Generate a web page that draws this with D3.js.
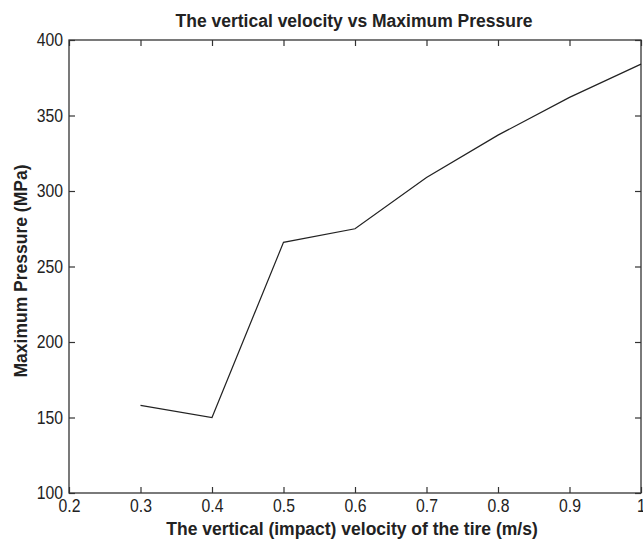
<!DOCTYPE html>
<html><head><meta charset="utf-8">
<script src="https://cdn.jsdelivr.net/npm/d3@7"></script>
<style>
body{margin:0;background:#fff;}
text{font-family:"Liberation Sans",Arial,sans-serif;fill:#222;}
</style></head><body>
<svg id="c" width="643" height="541"></svg>
<script>
const velocity = [0.3, 0.4, 0.5, 0.6, 0.7, 0.8, 0.9, 1.0];
const pressure = [158, 150, 266, 275, 309, 337, 362, 384];
const xTicks = [0.2, 0.3, 0.4, 0.5, 0.6, 0.7, 0.8, 0.9, 1];
const yTicks = [100, 150, 200, 250, 300, 350, 400];
const title = "The vertical velocity vs Maximum Pressure";
const xLabel = "The vertical (impact) velocity of the tire (m/s)";
const yLabel = "Maximum Pressure (MPa)";

const svg = d3.select("#c");
const L = 69, R = 641, T = 40, B = 493;
const x = d3.scaleLinear().domain([0.2, 1]).range([L, R]);
const y = d3.scaleLinear().domain([100, 400]).range([B, T]);
const axisColor = "#333";

function styleAxis(g){
  g.select(".domain").remove();
  g.selectAll("line").attr("stroke", axisColor).attr("stroke-width", 1.2);
  g.selectAll("text").attr("font-size", 17.5).attr("fill", "#333");
  // slightly condensed glyphs like the reference
  g.selectAll("text").each(function(){
    const w = this.getComputedTextLength();
    if (w > 0) d3.select(this).attr("textLength", w * 0.9).attr("lengthAdjust", "spacingAndGlyphs");
  });
}
// bottom
svg.append("g").attr("transform", `translate(0,${B})`)
  .call(d3.axisBottom(x).tickValues(xTicks).tickSize(-6).tickPadding(7).tickFormat(d => d===1 ? "1" : d3.format(".1f")(d)))
  .call(styleAxis);
// top
svg.append("g").attr("transform", `translate(0,${T})`)
  .call(d3.axisTop(x).tickValues(xTicks).tickSize(-6).tickFormat(""))
  .call(styleAxis);
// left
svg.append("g").attr("transform", `translate(${L},0)`)
  .call(d3.axisLeft(y).tickValues(yTicks).tickSize(-6).tickPadding(6))
  .call(styleAxis);
// right
svg.append("g").attr("transform", `translate(${R},0)`)
  .call(d3.axisRight(y).tickValues(yTicks).tickSize(-6).tickFormat(""))
  .call(styleAxis);

// box
svg.append("rect").attr("x", L).attr("y", T).attr("width", R-L).attr("height", B-T)
  .attr("fill", "none").attr("stroke", axisColor).attr("stroke-width", 1.3);

// line
const line = d3.line().x((d,i) => x(velocity[i])).y(d => y(d));
svg.append("path").datum(pressure).attr("d", line)
  .attr("fill", "none").attr("stroke", "#222").attr("stroke-width", 1.2);

// title and axis labels
svg.append("text").attr("x", 354).attr("y", 27).attr("text-anchor", "middle")
  .attr("font-size", 17.5).attr("font-weight", "bold").text(title);
svg.append("text").attr("x", 352).attr("y", 535).attr("text-anchor", "middle")
  .attr("font-size", 17.5).attr("font-weight", "bold").text(xLabel);
svg.append("text").attr("transform", "translate(27,271) rotate(-90)").attr("text-anchor", "middle")
  .attr("font-size", 17.5).attr("font-weight", "bold").text(yLabel);
</script>
</body></html>
